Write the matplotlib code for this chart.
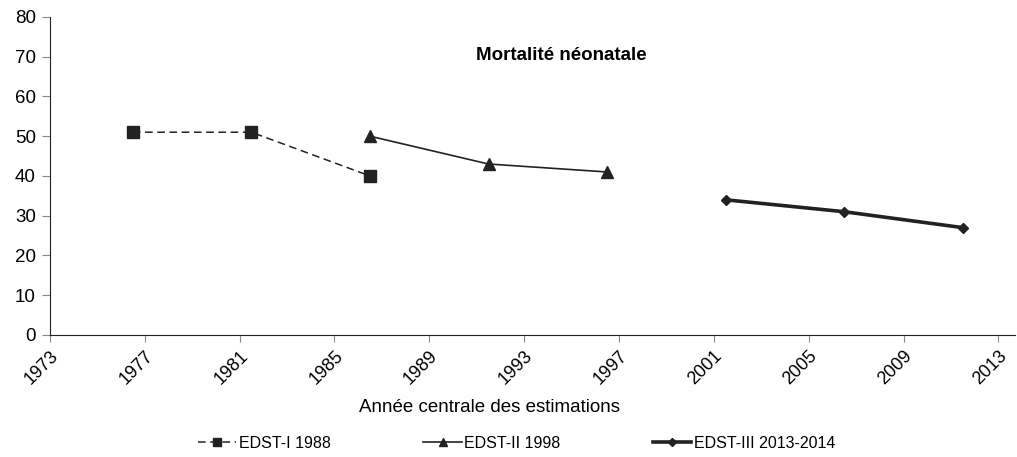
import matplotlib
matplotlib.use("Agg")
import matplotlib.pyplot as plt
import matplotlib.transforms as mtransforms

plt.rcParams['font.family'] = ['Liberation Sans', 'DejaVu Sans']

# années centrales des estimations et mortalité néonatale (pour 1000)
annees_1 = [1976.5, 1981.5, 1986.5]
valeurs_1 = [51, 51, 40]
annees_2 = [1986.5, 1991.5, 1996.5]
valeurs_2 = [50, 43, 41]
annees_3 = [2001.5, 2006.5, 2011.5]
valeurs_3 = [34, 31, 27]
ticks_x = list(range(1973, 2014, 4))
ticks_y = list(range(0, 81, 10))

fig = plt.figure(figsize=(10.17, 4.57), dpi=100)
ax = fig.add_axes([0.049, 0.267, 0.949, 0.696])

ax.plot(annees_1, valeurs_1, color='#222222', lw=1.1, dashes=(5, 3),
        marker='s', ms=8.5, mfc='#222222', mec='#222222', label='EDST-I 1988')
ax.plot(annees_2, valeurs_2, color='#222222', lw=1.2,
        marker='^', ms=8, label='EDST-II 1998')
ax.plot(annees_3, valeurs_3, color='#222222', lw=2.6,
        marker='D', ms=5, label='EDST-III 2013-2014')

ax.set_xlim(1973, 2013.7)
ax.set_ylim(0, 80)
ax.set_xticks(ticks_x)
ax.set_xticklabels([str(t) for t in ticks_x], rotation=45, fontsize=13,
                   ha='right', va='top', rotation_mode='anchor')
# petit décalage à droite comme dans Excel
decalage = mtransforms.ScaledTranslation(4 / 72, 0, fig.dpi_scale_trans)
for lbl in ax.get_xticklabels():
    lbl.set_transform(lbl.get_transform() + decalage)
ax.set_yticks(ticks_y)
ax.tick_params(axis='y', labelsize=13.5, color='#888888', length=6, pad=4)
ax.tick_params(axis='x', color='#888888', length=5, pad=4)

ax.spines['top'].set_visible(False)
ax.spines['right'].set_visible(False)
ax.spines['left'].set_color('#222222')
ax.spines['bottom'].set_color('#222222')

ax.set_xlabel('Année centrale des estimations', fontsize=13.5)
ax.xaxis.set_label_coords(0.456, -0.2)
ax.text(0.53, 0.88, 'Mortalité néonatale', transform=ax.transAxes,
        fontsize=13.5, fontweight='bold', ha='center', va='center')

fig.legend(loc='center', bbox_to_anchor=(0.508, 0.03), ncol=3, frameon=False,
           fontsize=11.5, handlelength=2.4, columnspacing=5.8, handletextpad=0.15,
           markerscale=0.75)

fig.savefig('out.png', dpi=100)
